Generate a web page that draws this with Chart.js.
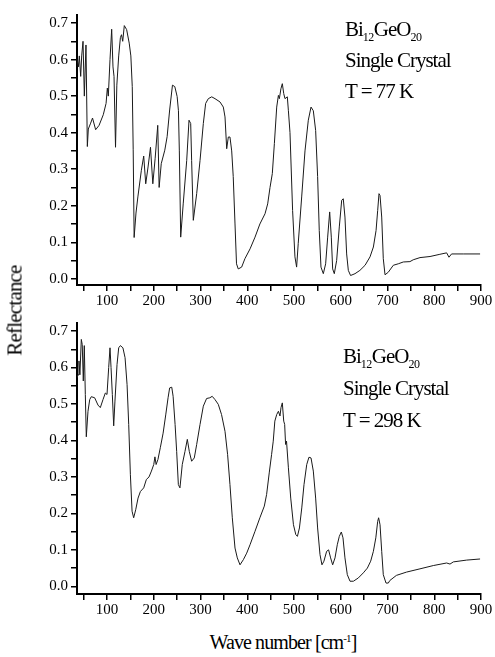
<!DOCTYPE html>
<html>
<head>
<meta charset="utf-8">
<script src="https://cdn.jsdelivr.net/npm/chart.js@4.4.1/dist/chart.umd.min.js"></script>
<style>
body { margin: 0; background: #fff; width: 495px; height: 657px; position: relative; overflow: hidden; font-family: "Liberation Serif", serif; color: #000; }
.panel { position: absolute; left: 0; width: 495px; height: 310px; }
.note { position: absolute; font-size: 21px; letter-spacing: -1px; white-space: nowrap; }
.note sub { font-size: 12px; vertical-align: -5px; line-height: 0; letter-spacing: -0.5px; }
#ytitle { position: absolute; left: -45px; top: 298px; width: 120px; text-align: center; font-size: 21px; letter-spacing: -0.8px; transform: rotate(-90deg); }
#xtitle { position: absolute; left: 183px; top: 631px; width: 200px; text-align: center; font-size: 20px; letter-spacing: -0.9px; line-height: 22px; }
#xtitle sup { font-size: 11px; vertical-align: 7px; line-height: 0; }
</style>
</head>
<body>
<div class="panel" style="top:0"><canvas id="top" width="495" height="310"></canvas></div>
<div class="panel" style="top:310px"><canvas id="bottom" width="495" height="310"></canvas></div>
<div class="note" style="left:345px; top:14px; line-height:31px;">Bi<sub>12</sub>GeO<sub>20</sub><br>Single Crystal<br>T = 77 K</div>
<div class="note" style="left:343px; top:340px; line-height:32px;">Bi<sub>12</sub>GeO<sub>20</sub><br>Single Crystal<br>T = 298 K</div>
<div id="ytitle">Reflectance</div>
<div id="xtitle">Wave number [cm<sup>-1</sup>]</div>
<script>
// T = 77 K
const wave77 = [36, 38.7, 40.8, 43.7, 45.8, 48.7, 51.5, 55, 57.9, 60, 65, 69, 75.7, 83, 92, 98, 100.7, 102.8, 106.4, 110,
    112.8, 115, 118.2, 121, 125, 128.6, 131, 133.6, 137, 142, 147.5, 151, 154, 156, 158, 162, 166, 173.5, 178.5, 182.8,
    187.8, 193, 198, 203, 208.5, 211.5, 216, 223.6, 228.6, 234, 240, 245, 250, 252.8, 254.7, 257.6, 263, 270.5, 275.4, 279,
    281, 284.6, 291.8, 299, 306, 311, 316.7, 324, 331, 341.7, 348.8, 352.4, 356, 359.5, 363, 366.7, 370, 373.8, 377, 380.7,
    388, 395, 406, 416.6, 427, 438, 443.7, 448.7, 453.6, 458, 463, 466.6, 468.7, 472, 475, 478, 480.7, 485.7, 488, 491.4,
    497, 502, 505.6, 509, 516.4, 523.5, 530.6, 536.4, 541.3, 546.3, 550.5, 554, 557.7, 562.7, 567.7, 572, 576.3, 579.8, 582.7, 586.2,
    591.2, 596.9, 602, 605.4, 609, 612.6, 616.2, 621, 630.5, 641, 652, 662.6, 669.8, 675.5, 679, 681.8, 684, 687.6, 691, 694.7,
    701.7, 712.4, 723, 733.8, 748, 755, 769.5, 791, 812, 826.5, 831.5, 837, 862, 898];
const refl77 = [0.60, 0.58, 0.61, 0.554, 0.61, 0.65, 0.50, 0.64, 0.362, 0.41, 0.426, 0.44, 0.408, 0.42, 0.449, 0.48, 0.522, 0.50, 0.60, 0.683,
    0.58, 0.554, 0.36, 0.53, 0.61, 0.66, 0.668, 0.65, 0.693, 0.682, 0.645, 0.61, 0.526, 0.353, 0.113, 0.18, 0.224, 0.297, 0.336, 0.26,
    0.306, 0.36, 0.26, 0.33, 0.42, 0.25, 0.315, 0.352, 0.389, 0.462, 0.53, 0.526, 0.499, 0.46, 0.35, 0.114, 0.205, 0.324, 0.434, 0.425,
    0.324, 0.16, 0.233, 0.324, 0.425, 0.48, 0.493, 0.498, 0.493, 0.484, 0.47, 0.443, 0.356, 0.388, 0.388, 0.35, 0.28, 0.15, 0.041, 0.027,
    0.032, 0.055, 0.082, 0.114, 0.15, 0.178, 0.205, 0.25, 0.288, 0.37, 0.47, 0.502, 0.493, 0.52, 0.534, 0.507, 0.493, 0.498, 0.46, 0.40,
    0.187, 0.06, 0.032, 0.096, 0.224, 0.35, 0.434, 0.47, 0.46, 0.406, 0.28, 0.132, 0.032, 0.014, 0.041, 0.114, 0.183, 0.114, 0.027, 0.014,
    0.05, 0.142, 0.215, 0.219, 0.169, 0.068, 0.023, 0.009, 0.014, 0.023, 0.037, 0.06, 0.087, 0.132, 0.187, 0.233, 0.228, 0.169, 0.055, 0.011,
    0.018, 0.037, 0.041, 0.046, 0.047, 0.052, 0.058, 0.061, 0.067, 0.071, 0.059, 0.068, 0.068, 0.068];

// T = 298 K
const wave298 = [36, 38, 40, 42, 45, 47, 49.3, 51.4, 53.6, 55.7, 59.3, 63, 66.4, 73.6, 80.7, 85.7, 91.4, 96.4, 100, 103.6,
    106.4, 108.6, 111.4, 114.3, 117, 121.4, 125, 128.6, 134, 138.6, 142.9, 146.4, 150, 153.6, 157, 161.4, 166.4, 171.4, 178.5, 184.2,
    189.9, 195, 200, 202.5, 205, 209, 214, 220, 225.6, 230.6, 234, 238.5, 241.4, 245.6, 249, 252.6, 256, 261, 266.8, 271.8,
    276, 281, 286.7, 291.8, 299, 306, 313, 320, 325, 331, 338, 345, 352.4, 358, 363, 368, 373.8, 378.7, 384.5, 391.6,
    398.8, 405.9, 416.6, 427, 436.5, 441.4, 447, 452, 455.6, 459, 463, 466.6, 470, 472.2, 475, 478, 480, 482, 484, 488,
    493, 498.8, 503.8, 507.3, 511.6, 516.6, 521.4, 527.2, 532, 536.4, 541.3, 546.3, 550.5, 555.6, 559.8, 564, 569.8, 574, 578.3, 582.7,
    587.7, 592.6, 596.9, 601.2, 604.8, 609, 614, 619.8, 627, 637.6, 648.3, 656.9, 664, 669.8, 675, 679, 681, 684, 687.6, 691,
    696.8, 701.7, 705, 719, 740.5, 769.5, 798, 826.5, 833.7, 840.8, 869.4, 898];
const refl298 = [0.572, 0.58, 0.618, 0.58, 0.677, 0.663, 0.563, 0.66, 0.526, 0.41, 0.48, 0.512, 0.52, 0.517, 0.497, 0.49, 0.512, 0.53, 0.526, 0.60,
    0.654, 0.60, 0.526, 0.44, 0.508, 0.608, 0.654, 0.66, 0.654, 0.627, 0.553, 0.444, 0.306, 0.206, 0.188, 0.21, 0.242, 0.26, 0.27, 0.293,
    0.30, 0.316, 0.334, 0.355, 0.334, 0.348, 0.38, 0.42, 0.47, 0.517, 0.544, 0.546, 0.521, 0.444, 0.37, 0.279, 0.27, 0.334, 0.37, 0.403,
    0.37, 0.343, 0.352, 0.389, 0.444, 0.494, 0.515, 0.517, 0.521, 0.512, 0.499, 0.471, 0.425, 0.361, 0.279, 0.188, 0.105, 0.078, 0.059, 0.073,
    0.091, 0.114, 0.151, 0.188, 0.22, 0.252, 0.311, 0.361, 0.398, 0.453, 0.471, 0.48, 0.467, 0.49, 0.503, 0.453, 0.444, 0.389, 0.398, 0.325,
    0.242, 0.169, 0.142, 0.137, 0.16, 0.215, 0.279, 0.334, 0.354, 0.352, 0.316, 0.242, 0.16, 0.087, 0.059, 0.069, 0.096, 0.10, 0.078, 0.059,
    0.078, 0.114, 0.137, 0.149, 0.133, 0.078, 0.032, 0.014, 0.014, 0.023, 0.037, 0.05, 0.069, 0.096, 0.133, 0.178, 0.188, 0.169, 0.096, 0.032,
    0.009, 0.009, 0.016, 0.03, 0.039, 0.048, 0.057, 0.064, 0.061, 0.067, 0.072, 0.075];

const xTicks = [50, 100, 150, 200, 250, 300, 350, 400, 450, 500, 550, 600, 650, 700, 750, 800, 850, 900];
const xLabels = [100, 200, 300, 400, 500, 600, 700, 800, 900];
const yTicks = [0, 0.05, 0.1, 0.15, 0.2, 0.25, 0.3, 0.35, 0.4, 0.45, 0.5, 0.55, 0.6, 0.65, 0.7];
const yLabels = ['0.0', '0.1', '0.2', '0.3', '0.4', '0.5', '0.6', '0.7'];

const tickFont = { family: 'Liberation Serif', size: 15 };

function drawPanel(id, wave, refl, padTop, xAxisHeight, yMin) {
    new Chart(document.getElementById(id), {
        type: 'line',
        data: {
            datasets: [{
                data: wave.map((w, i) => ({ x: w, y: refl[i] })),
                borderColor: '#1a1a1a',
                borderWidth: 1,
                pointRadius: 0,
                tension: 0,
                fill: false,
            }]
        },
        options: {
            responsive: false,
            animation: false,
            events: [],
            layout: { padding: { top: padTop, right: 14, left: 0, bottom: 0 } },
            plugins: { legend: { display: false }, tooltip: { enabled: false } },
            scales: {
                x: {
                    type: 'linear',
                    min: 35.8,
                    max: 900,
                    afterBuildTicks: s => { s.ticks = xTicks.map(v => ({ value: v })); },
                    afterFit: s => { s.height = xAxisHeight; },
                    ticks: {
                        autoSkip: false,
                        maxRotation: 0,
                        padding: 1,
                        color: '#000',
                        font: tickFont,
                        callback: v => xLabels.includes(v) ? String(v) : '',
                    },
                    grid: { drawOnChartArea: false, drawTicks: true, tickLength: 6, color: '#000', lineWidth: 1.5 },
                    border: { display: true, color: '#000', width: 2 },
                },
                y: {
                    min: yMin,
                    max: 0.722,
                    afterBuildTicks: s => { s.ticks = yTicks.map(v => ({ value: v })); },
                    afterFit: s => { s.width = 77; },
                    ticks: {
                        autoSkip: false,
                        padding: 3,
                        color: '#000',
                        font: tickFont,
                        callback: (v, i) => i % 2 === 0 ? yLabels[i / 2] : '',
                    },
                    grid: { drawOnChartArea: false, drawTicks: true, tickLength: 6, color: '#000', lineWidth: 1.5 },
                    border: { display: true, color: '#000', width: 2 },
                }
            }
        }
    });
}

drawPanel('top', wave77, refl77, 15, 25, -0.017);
drawPanel('bottom', wave298, refl298, 13, 26, -0.021);
</script>
</body>
</html>
